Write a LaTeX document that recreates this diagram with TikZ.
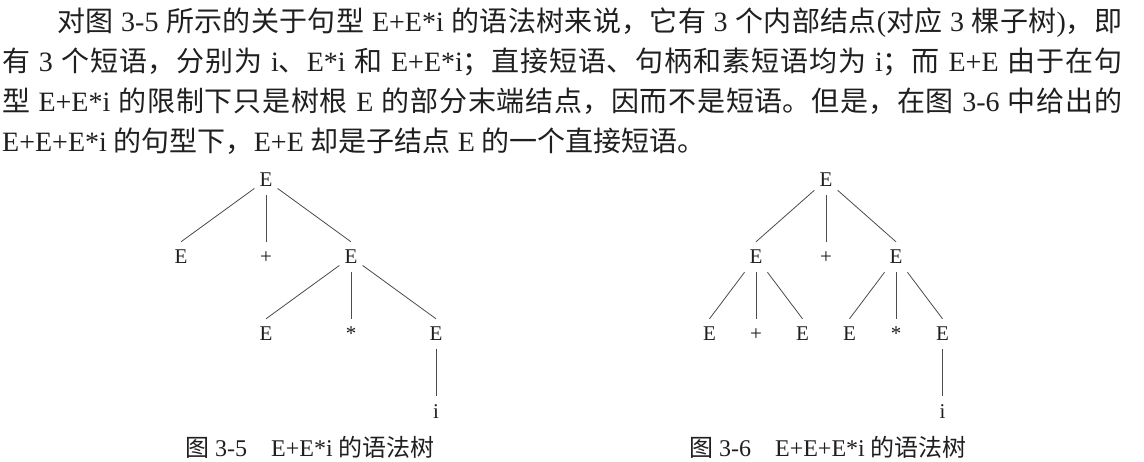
\documentclass[tikz,border=0pt]{standalone}
\usepackage{fontspec}
\setmainfont{Liberation Serif}
\newfontfamily\cjk{Noto Sans CJK SC}
\usetikzlibrary{trees}
\XeTeXlinebreaklocale "zh"
\XeTeXlinebreakskip=0pt plus 2pt minus 0.5pt
\definecolor{ink}{gray}{0.12}
\definecolor{lineink}{gray}{0.3}
\newcommand{\zh}[1]{{\cjk #1}}
\tikzset{
  para/.style={anchor=base west,inner sep=0pt,text width=1120pt,align=justify,
    font=\fontsize{28}{40}\selectfont,text=ink},
  tnode/.style={inner xsep=5pt,inner ysep=8pt,text height=14pt,text depth=0pt,
    font=\fontsize{21}{21}\selectfont,text=ink},
  figcap/.style={inner sep=0pt,font=\fontsize{24}{24}\selectfont,text=ink}
}
\begin{document}
\begin{tikzpicture}[x=1pt,y=1pt,level distance=77pt]
\tikzstyle{every child node}=[tnode]
\tikzstyle{edge from parent}=[draw,lineink,line width=0.8pt]
\tikzset{edge from parent path={(\tikzparentnode) -- (\tikzchildnode.north)}}
\fill[white] (0,0) rectangle (1144,-462);
\useasboundingbox (0,0) rectangle (1144,-462);

% text above the figures
\node[para] (txt) at (2,-31.5) {\hspace*{55pt}\zh{对图} 3-5 \zh{所示的关于句型} E+E*i \zh{的语法树来说，它有} 3 \zh{个内部结点}(\zh{对应} 3 \zh{棵子树})\zh{，即}\linebreak
\zh{有} 3 \zh{个短语，分别为} i\zh{、}E*i \zh{和} E+E*i\zh{；直接短语、句柄和素短语均为} i\zh{；而} E+E \zh{由于在句}\linebreak
\zh{型} E+E*i \zh{的限制下只是树根} E \zh{的部分末端结点，因而不是短语。但是，在图} 3-6 \zh{中给出的}\linebreak
E+E+E*i \zh{的句型下，}E+E \zh{却是子结点} E \zh{的一个直接短语。}};

% fig 3-5
\begin{scope}[level 1/.style={sibling distance=85pt},level 2/.style={sibling distance=85pt}]
\node[tnode] (root1) at (266,-180) {E}
  child { node (E1) {E} }
  child { node (plus1) {+} }
  child { node (E2) {E}
    child { node (E3) {E} }
    child { node (star1) {*} }
    child { node (E4) {E}
      child { node (i1) {i} }
    }
  };
\end{scope}
\node[figcap] (cap1) at (310,-447) {\zh{图} 3-5\quad E+E*i \zh{的语法树}};

% fig 3-6
\begin{scope}[level 1/.style={sibling distance=70pt},level 2/.style={sibling distance=46.5pt}]
\node[tnode] (root2) at (826,-180) {E}
  child { node (E5) {E}
    child { node (E7) {E} }
    child { node (plus3) {+} }
    child { node (E8) {E} }
  }
  child { node (plus2) {+} }
  child { node (E6) {E}
    child { node (E9) {E} }
    child { node (star2) {*} }
    child { node (E10) {E}
      child { node (i2) {i} }
    }
  };
\end{scope}
\node[figcap] (cap2) at (828,-447) {\zh{图} 3-6\quad E+E+E*i \zh{的语法树}};
\end{tikzpicture}
\end{document}
